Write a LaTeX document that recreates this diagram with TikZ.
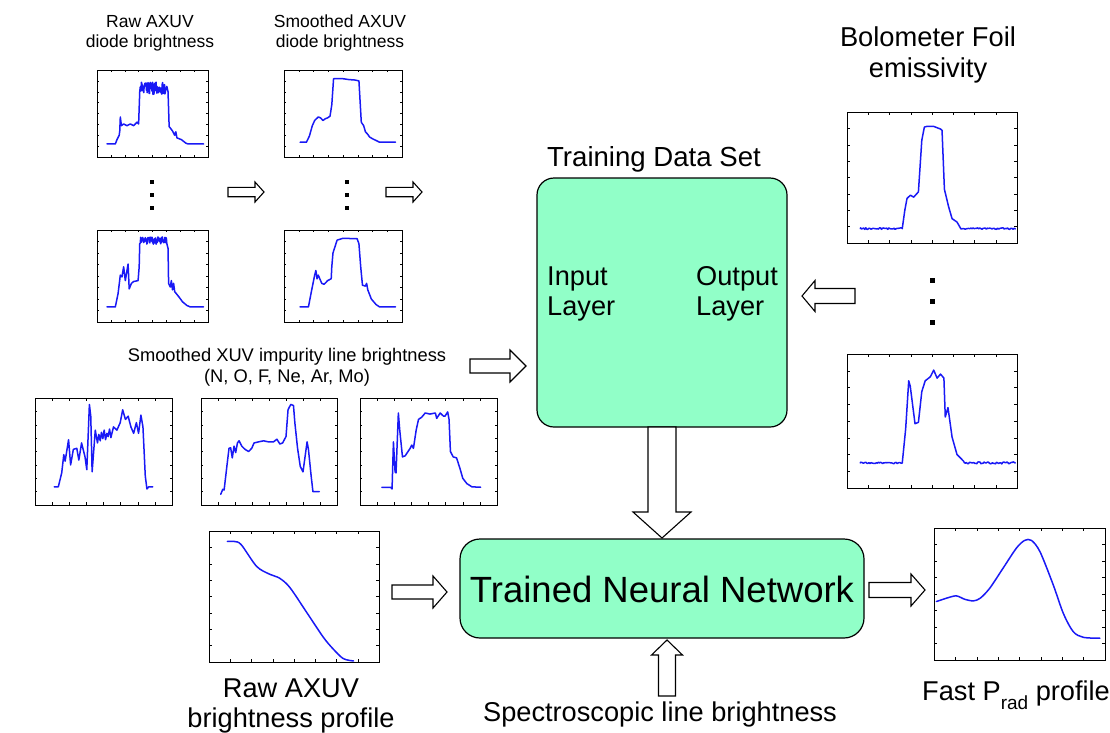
\documentclass[tikz,border=0pt]{standalone}
\usepackage{fontspec}
\setmainfont{Liberation Sans}
\definecolor{nngreen}{RGB}{145,255,200}
\definecolor{curveblue}{RGB}{25,25,245}
\tikzset{
  blockarr/.style={draw=black, fill=white, line width=1.1pt, line join=miter},
  plotfrm/.style={draw=black, line width=1pt, inner sep=0pt, outer sep=0pt, anchor=north west},
  curve/.style={draw=curveblue, line width=1.5pt, line join=round, line cap=round},
  tickmark/.style={draw=black, line width=0.4pt},
  bigbox/.style={draw=black, fill=nngreen, line width=1.2pt, inner sep=0pt},
  dotmark/.style={fill=black, minimum size=4.5pt, inner sep=0pt},
  lbl/.style={align=center, inner sep=0pt},
}
\newcommand{\fntS}{\fontsize{17.5}{20}\selectfont}
\newcommand{\fntM}{\fontsize{18.3}{21}\selectfont}
\newcommand{\fntL}{\fontsize{27.2}{30}\selectfont}
\newcommand{\fntXL}{\fontsize{36.5}{40}\selectfont}
% horizontal block arrow: x tail, x head-base, x tip, y, half shaft, half head
\newcommand{\harrow}[6]{\draw[blockarr] (#1,{#4-#5}) -- (#2,{#4-#5}) -- (#2,{#4-#6}) -- (#3,#4) -- (#2,{#4+#6}) -- (#2,{#4+#5}) -- (#1,{#4+#5}) -- cycle;}
% vertical block arrow: y tail, y head-base, y tip, x, half shaft, half head
\newcommand{\varrow}[6]{\draw[blockarr] ({#4-#5},#1) -- ({#4-#5},#2) -- ({#4-#6},#2) -- (#4,#3) -- ({#4+#6},#2) -- ({#4+#5},#2) -- ({#4+#5},#1) -- cycle;}
% plot: name, x0, y0, x1, y1, curve path in unit coordinates
\newcommand{\plotfig}[6]{%
  \node[plotfrm, minimum width={(#4-#2)*1pt}, minimum height={(#5-#3)*1pt}] (#1) at (#2,#3) {};
  \begin{scope}[shift={(#2,#5)}, xscale={#4-#2}, yscale={#3-#5}]
    \foreach \t in {0.125,0.25,...,0.9} {
      \draw[tickmark] (\t,0) -- (\t,0.025);
      \draw[tickmark] (\t,1) -- (\t,0.975);
      \draw[tickmark] (0,\t) -- (0.018,\t);
      \draw[tickmark] (1,\t) -- (0.982,\t);
    }
    \draw[curve] #6;
  \end{scope}}
\begin{document}
\begin{tikzpicture}[x=1pt, y=-1pt]
\pgfmathsetseed{7}
\useasboundingbox (0,0) rectangle (1110,732);

% ---------- labels top-left
\node[lbl, font=\fntS, anchor=base] (lraw) at (150,47) {Raw AXUV\\diode brightness};
\node[lbl, font=\fntS, anchor=base] (lsmooth) at (340,47) {Smoothed AXUV\\diode brightness};

% ---------- AXUV plots
\plotfig{pA}{97}{70}{208}{157}{(0.09,0.15) -- (0.165,0.15) -- (0.18,0.2) -- (0.2,0.25) -- (0.205,0.3) -- (0.21,0.46) -- (0.22,0.36) -- (0.24,0.38) -- (0.27,0.36) -- (0.3,0.38) -- (0.33,0.36) -- (0.36,0.4) -- (0.375,0.38) -- (0.385,0.75) -- plot[domain=0.39:0.63,samples=70] (\x,{0.79+0.07*rand}) -- (0.64,0.75) -- (0.65,0.35) -- (0.68,0.3) -- (0.7,0.25) -- (0.71,0.29) -- (0.72,0.22) -- (0.76,0.2) -- (0.8,0.16) -- (0.82,0.15) -- (0.96,0.15)}
\plotfig{pB}{284}{70}{402}{157}{(0.136,0.17) -- (0.19,0.17) -- (0.215,0.24) -- (0.24,0.36) -- (0.26,0.42) -- (0.29,0.46) -- (0.31,0.45) -- (0.33,0.42) -- (0.35,0.44) -- (0.37,0.45) -- (0.39,0.47) -- (0.405,0.6) -- (0.42,0.9) -- (0.5,0.9) -- (0.55,0.89) -- (0.6,0.885) -- (0.635,0.875) -- (0.655,0.4) -- (0.675,0.36) -- (0.69,0.29) -- (0.71,0.26) -- (0.725,0.23) -- (0.75,0.21) -- (0.81,0.17) -- (0.945,0.17)}
\plotfig{pC}{97}{230}{208}{322}{(0.09,0.164) -- (0.165,0.164) -- (0.19,0.31) -- (0.21,0.51) -- (0.225,0.49) -- (0.24,0.6) -- (0.255,0.45) -- (0.28,0.63) -- (0.29,0.36) -- (0.31,0.42) -- (0.33,0.44) -- (0.37,0.45) -- (0.38,0.6) -- (0.385,0.85) -- plot[domain=0.39:0.63,samples=70] (\x,{0.885+0.04*rand}) -- (0.64,0.8) -- (0.645,0.42) -- (0.66,0.38) -- (0.67,0.45) -- (0.68,0.35) -- (0.69,0.42) -- (0.7,0.33) -- (0.74,0.27) -- (0.77,0.22) -- (0.81,0.18) -- (0.84,0.164) -- (0.96,0.164)}
\plotfig{pD}{284}{230}{402}{322}{(0.136,0.164) -- (0.207,0.164) -- (0.235,0.35) -- (0.26,0.51) -- (0.27,0.56) -- (0.28,0.47) -- (0.29,0.51) -- (0.32,0.42) -- (0.34,0.41) -- (0.37,0.45) -- (0.4,0.47) -- (0.405,0.6) -- (0.415,0.75) -- (0.45,0.89) -- (0.5,0.91) -- (0.62,0.905) -- (0.635,0.85) -- (0.65,0.6) -- (0.665,0.40) -- (0.69,0.39) -- (0.7,0.42) -- (0.71,0.35) -- (0.74,0.25) -- (0.78,0.19) -- (0.81,0.164) -- (0.945,0.164)}

% dots
\node[dotmark] (da1) at (152,182) {};
\node[dotmark] (da2) at (152,195) {};
\node[dotmark] (da3) at (152,208) {};
\node[dotmark] (db1) at (347,182) {};
\node[dotmark] (db2) at (347,195) {};
\node[dotmark] (db3) at (347,208) {};

% small arrows
\harrow{228}{255}{264}{192}{4.7}{10}
\harrow{386}{413}{422}{192}{4.7}{10}

% ---------- impurity
\node[lbl, font=\fntM, anchor=base] (limp) at (287,382) {Smoothed XUV impurity line brightness\\(N, O, F, Ne, Ar, Mo)};
\harrow{470}{510}{526}{366}{7}{16}

\plotfig{pE}{35}{398}{172}{505}{(0.14,0.17) -- (0.17,0.17) -- (0.195,0.30) -- (0.21,0.47) -- (0.22,0.41) -- (0.245,0.61) -- (0.26,0.375) -- (0.28,0.52) -- (0.305,0.53) -- (0.32,0.42) -- (0.34,0.58) -- (0.365,0.45) -- (0.378,0.33) -- (0.385,0.55) -- (0.397,0.94) -- (0.407,0.83) -- (0.417,0.31) -- (0.44,0.70) -- (0.456,0.58) -- (0.466,0.66) -- (0.476,0.60) -- (0.485,0.68) -- (0.495,0.62) -- (0.505,0.70) -- (0.515,0.61) -- (0.525,0.67) -- (0.534,0.64) -- (0.544,0.71) -- (0.554,0.63) -- (0.573,0.73) -- (0.598,0.70) -- (0.622,0.77) -- (0.64,0.89) -- (0.66,0.80) -- (0.68,0.83) -- (0.70,0.73) -- (0.72,0.67) -- (0.74,0.77) -- (0.756,0.67) -- (0.773,0.84) -- (0.788,0.73) -- (0.805,0.27) -- (0.817,0.15) -- (0.83,0.17) -- (0.86,0.17)}
\plotfig{pF}{201}{398}{337}{505}{(0.145,0.10) -- (0.16,0.147) -- (0.17,0.14) -- (0.19,0.36) -- (0.206,0.53) -- (0.218,0.535) -- (0.23,0.44) -- (0.243,0.55) -- (0.255,0.49) -- (0.268,0.58) -- (0.28,0.60) -- (0.30,0.55) -- (0.324,0.52) -- (0.35,0.50) -- (0.373,0.53) -- (0.39,0.58) -- (0.423,0.59) -- (0.46,0.60) -- (0.496,0.59) -- (0.533,0.59) -- (0.558,0.615) -- (0.58,0.57) -- (0.60,0.58) -- (0.625,0.64) -- (0.64,0.89) -- (0.66,0.94) -- (0.68,0.93) -- (0.69,0.77) -- (0.71,0.53) -- (0.73,0.36) -- (0.75,0.31) -- (0.765,0.45) -- (0.78,0.59) -- (0.79,0.52) -- (0.81,0.27) -- (0.823,0.125) -- (0.84,0.125) -- (0.87,0.125)}
\plotfig{pG}{360}{398}{497}{505}{(0.16,0.166) -- (0.224,0.166) -- (0.234,0.15) -- (0.244,0.59) -- (0.256,0.31) -- (0.263,0.30) -- (0.28,0.86) -- (0.29,0.70) -- (0.31,0.45) -- (0.33,0.46) -- (0.366,0.53) -- (0.378,0.56) -- (0.39,0.53) -- (0.41,0.70) -- (0.427,0.80) -- (0.45,0.82) -- (0.476,0.86) -- (0.51,0.85) -- (0.55,0.86) -- (0.56,0.81) -- (0.585,0.86) -- (0.61,0.83) -- (0.62,0.83) -- (0.64,0.87) -- (0.65,0.80) -- (0.66,0.50) -- (0.68,0.45) -- (0.705,0.44) -- (0.73,0.34) -- (0.75,0.25) -- (0.78,0.20) -- (0.817,0.17) -- (0.88,0.166)}

% ---------- training data set box
\node[lbl, font=\fontsize{27.6}{30}\selectfont, anchor=base] (ltrain) at (654,166) {Training Data Set};
\node[bigbox, rounded corners=17pt, minimum width=250pt, minimum height=249pt] (train) at (662,302.5) {};
\node[align=left, inner sep=0pt, font=\fntL, anchor=base west] (lin) at (547,315) {Input\\Layer};
\node[align=left, inner sep=0pt, font=\fntL, anchor=base west] (lout) at (696,315) {Output\\Layer};

% ---------- bolometer
\node[lbl, font=\fontsize{27.3}{31}\selectfont, anchor=base] (lbolo) at (928,77) {Bolometer Foil\\emissivity};
\plotfig{pH}{847}{112}{1017}{243}{(0.078,0.11) -- plot[domain=0.08:0.32,samples=40] (\x,{0.11+0.006*rand}) -- (0.325,0.11) -- (0.34,0.25) -- (0.353,0.34) -- (0.373,0.365) -- (0.392,0.35) -- (0.42,0.39) -- (0.44,0.785) -- (0.455,0.885) -- (0.47,0.89) -- (0.51,0.89) -- (0.55,0.87) -- (0.559,0.86) -- (0.573,0.41) -- (0.598,0.275) -- (0.618,0.186) -- (0.647,0.16) -- (0.667,0.115) -- plot[domain=0.67:0.99,samples=50] (\x,{0.11+0.006*rand})}
\node[dotmark, minimum size=5pt] (dc1) at (932,280) {};
\node[dotmark, minimum size=5pt] (dc2) at (932,301) {};
\node[dotmark, minimum size=5pt] (dc3) at (932,322) {};
\plotfig{pK}{847}{354}{1017}{488}{(0.078,0.187) -- plot[domain=0.08:0.32,samples=40] (\x,{0.187+0.006*rand}) -- (0.325,0.187) -- (0.345,0.44) -- (0.363,0.80) -- (0.372,0.76) -- (0.382,0.66) -- (0.40,0.48) -- (0.42,0.49) -- (0.44,0.72) -- (0.46,0.80) -- (0.49,0.83) -- (0.51,0.88) -- (0.53,0.82) -- (0.55,0.85) -- (0.57,0.82) -- (0.578,0.53) -- (0.594,0.60) -- (0.618,0.38) -- (0.647,0.25) -- (0.686,0.20) -- plot[domain=0.69:0.99,samples=50] (\x,{0.187+0.008*rand})}
\harrow{855}{815}{802}{296}{7.5}{15.5}

% ---------- trained network
\node[bigbox, rounded corners=20pt, minimum width=404pt, minimum height=99pt] (nn) at (662,588.5) {};
\node[lbl, font=\fntXL, anchor=base] (lnn) at (662,602) {Trained Neural Network};
\varrow{427}{512}{538}{662}{14}{29}
\varrow{696}{655}{640}{667}{8.5}{15.5}
\node[lbl, font=\fntL, anchor=base] (lspec) at (660,721) {Spectroscopic line brightness};

% ---------- raw profile
\plotfig{pI}{209}{531}{379}{662}{plot[smooth] coordinates {(0.108,0.92) (0.15,0.92) (0.19,0.895) (0.28,0.73) (0.357,0.67) (0.415,0.64) (0.475,0.57) (0.574,0.38) (0.672,0.19) (0.73,0.10) (0.79,0.026) (0.85,0.008)}}
\node[lbl, font=\fntL, anchor=base] (lrawp) at (291,727) {Raw AXUV\\brightness profile};
\harrow{392}{433}{447}{592}{7}{16}

% ---------- fast prad
\harrow{869}{911}{925}{590}{7.5}{16}
\plotfig{pJ}{934}{528}{1105}{660}{plot[smooth] coordinates {(0.014,0.443) (0.072,0.468) (0.13,0.486) (0.18,0.46) (0.23,0.448) (0.27,0.468) (0.326,0.544) (0.404,0.696) (0.482,0.848) (0.53,0.906) (0.57,0.906) (0.62,0.82) (0.697,0.57) (0.756,0.354) (0.814,0.215) (0.873,0.172) (0.97,0.165)}}
\node[lbl, font=\fntL, anchor=base] (lfast) at (1016,700) {Fast P\raisebox{-9pt}{\fontsize{19}{19}\selectfont rad} profile};
\end{tikzpicture}
\end{document}
